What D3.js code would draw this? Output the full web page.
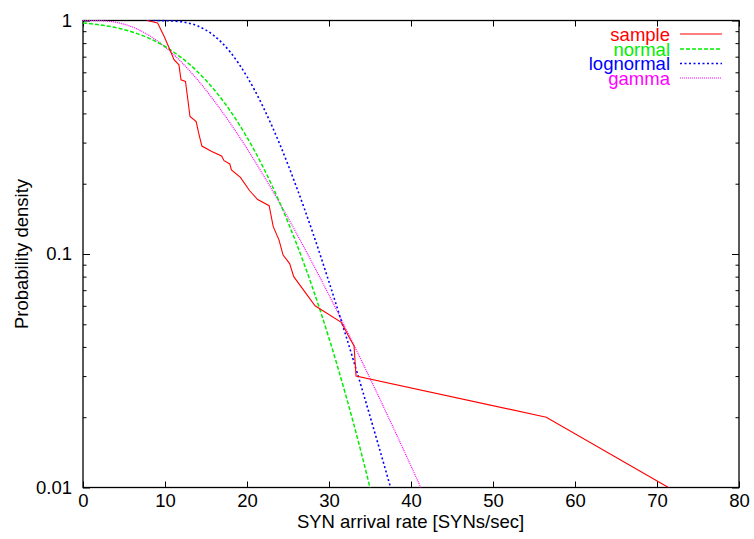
<!DOCTYPE html>
<html>
<head>
<meta charset="utf-8">
<script src="https://cdn.jsdelivr.net/npm/d3@7"></script>
<style>
  html, body { margin: 0; padding: 0; background: #fff; }
  svg { display: block; font-family: "Liberation Sans", Arial, Helvetica, sans-serif; }
</style>
</head>
<body>
<svg id="chart" width="754" height="539"></svg>
<script>
// ---------- data ----------
const xTicks = [0, 10, 20, 30, 40, 50, 60, 70, 80];
const yTicks = [0.01, 0.1, 1];
const yTickLabels = ["0.01", "0.1", "1"];
const yMinorTicks = [0.02, 0.03, 0.04, 0.05, 0.06, 0.07, 0.08, 0.09,
                     0.2, 0.3, 0.4, 0.5, 0.6, 0.7, 0.8, 0.9];
const xLabel = "SYN arrival rate [SYNs/sec]";
const yLabel = "Probability density";
const seriesNames = ["sample", "normal", "lognormal", "gamma"];

const sampleX = [7.8, 9.1, 9.9, 10.6, 11.1, 11.7, 11.95, 12.5, 13.05, 13.8, 14.1, 14.5,
                 15.7, 16.9, 17.2, 17.9, 18.1, 19.2, 20.3, 21.3, 22.7, 23.2, 23.9, 24.4,
                 25.2, 25.7, 28.3, 31.5, 32.6, 33.05, 33.3, 56.5, 71.4];
const sampleY = [1.0, 0.975, 0.854, 0.75, 0.68, 0.646, 0.557, 0.548, 0.388, 0.369, 0.33, 0.29,
                 0.275, 0.263, 0.251, 0.243, 0.229, 0.213, 0.187, 0.171, 0.161, 0.131, 0.115, 0.099,
                 0.091, 0.080, 0.060, 0.051, 0.043, 0.0405, 0.030, 0.020, 0.010];

const normalX = [0, 2, 4, 6, 8, 10, 12, 14, 16, 18, 20, 22, 24, 26, 28, 30, 32, 34, 36];
const normalY = [0.9763, 0.9588, 0.9320, 0.8933, 0.8409, 0.7737, 0.6932, 0.6022, 0.5054, 0.4080,
                 0.3159, 0.2341, 0.1656, 0.1116, 0.0716, 0.0436, 0.0252, 0.0138, 0.00714];

const lognormalX = [8, 10, 12, 14, 16, 18, 20, 22, 24, 26, 28, 30, 32, 34, 36, 38];
const lognormalY = [0.99994, 0.99847, 0.9872, 0.947, 0.860, 0.729, 0.575, 0.424, 0.295, 0.195,
                    0.124, 0.0759, 0.0454, 0.0266, 0.0153, 0.0087];

const gammaX = [0, 2, 4, 6, 8, 10, 12, 14, 16, 18, 20, 22, 24, 26, 28, 30, 32, 34, 36, 38, 40, 42];
const gammaY = [1.0, 0.9984, 0.9826, 0.9387, 0.8658, 0.7707, 0.6640, 0.5552, 0.4527, 0.3612,
                0.2827, 0.2173, 0.1647, 0.1233, 0.09115, 0.0667, 0.04831, 0.03474, 0.02477,
                0.01755, 0.01236, 0.00865];

// ---------- layout & style ----------
const L = 83, R = 739, T = 20.5, B = 487.5;
const FONT = 18.5;
const svg = d3.select("#chart");

const x = d3.scaleLinear().domain([0, 80]).range([L, R]);
const y = d3.scaleLog().domain([0.01, 1]).range([B, T]);

const styles = {
  sample:    { color: "#ff0000", dash: null,  width: 1.1, curve: d3.curveLinear },
  normal:    { color: "#00ee00", dash: "4,2", width: 1.5, curve: d3.curveMonotoneX },
  lognormal: { color: "#0000ff", dash: "2,2.5", width: 1.6, curve: d3.curveMonotoneX },
  gamma:     { color: "#ff00ff", dash: "1,1", width: 1.2, curve: d3.curveMonotoneX }
};

// clip
svg.append("defs").append("clipPath").attr("id", "plotclip")
  .append("rect").attr("x", L).attr("y", T - 1).attr("width", R - L).attr("height", B - T + 1);

// axes (ticks pointing inward, gnuplot style)
function styleAxis(g) {
  g.select(".domain").remove();
  g.selectAll(".tick line").attr("stroke", "#000").attr("stroke-width", 1);
  g.selectAll(".tick text").attr("fill", "#000").style("font-size", FONT + "px")
    .style("font-family", '"Liberation Sans", Arial, sans-serif');
}

svg.append("g").attr("transform", `translate(0,${B})`)
  .call(d3.axisBottom(x).tickValues(xTicks).tickSize(-6).tickPadding(6).tickFormat(d3.format("d")))
  .call(styleAxis);
svg.append("g").attr("transform", `translate(0,${T})`)
  .call(d3.axisTop(x).tickValues(xTicks).tickSize(-6).tickFormat(""))
  .call(styleAxis);

svg.append("g").attr("transform", `translate(${L},0)`)
  .call(d3.axisLeft(y).tickValues(yTicks).tickSize(-7).tickPadding(11)
        .tickFormat(d => yTickLabels[yTicks.indexOf(d)]))
  .call(styleAxis);
svg.append("g").attr("transform", `translate(${L},0)`)
  .call(d3.axisLeft(y).tickValues(yMinorTicks).tickSize(-3.5).tickFormat(""))
  .call(styleAxis);
svg.append("g").attr("transform", `translate(${R},0)`)
  .call(d3.axisRight(y).tickValues(yTicks).tickSize(-7).tickFormat(""))
  .call(styleAxis);
svg.append("g").attr("transform", `translate(${R},0)`)
  .call(d3.axisRight(y).tickValues(yMinorTicks).tickSize(-3.5).tickFormat(""))
  .call(styleAxis);

// border
svg.append("rect").attr("x", L).attr("y", T).attr("width", R - L).attr("height", B - T)
  .attr("fill", "none").attr("stroke", "#000").attr("stroke-width", 1.3);

// series
const seriesData = {
  sample: [sampleX, sampleY],
  normal: [normalX, normalY],
  lognormal: [lognormalX, lognormalY],
  gamma: [gammaX, gammaY]
};
const plot = svg.append("g").attr("clip-path", "url(#plotclip)");
seriesNames.slice().reverse().forEach(name => {
  const [xs, ys] = seriesData[name];
  const pts = xs.map((v, i) => [v, ys[i]]);
  const st = styles[name];
  const line = d3.line().x(d => x(d[0])).y(d => y(d[1])).curve(st.curve);
  plot.append("path").datum(pts).attr("d", line)
    .attr("fill", "none").attr("stroke", st.color).attr("stroke-width", st.width)
    .attr("stroke-dasharray", st.dash);
});

// legend
const legRowY = [34, 49, 63.5, 78];
const leg = svg.append("g");
seriesNames.forEach((name, i) => {
  const st = styles[name];
  leg.append("text").attr("x", 670).attr("y", legRowY[i] + 6.5)
    .attr("text-anchor", "end").attr("fill", st.color)
    .style("font-size", FONT + "px").text(name);
  leg.append("line").attr("x1", 680).attr("x2", 722)
    .attr("y1", legRowY[i]).attr("y2", legRowY[i])
    .attr("stroke", st.color).attr("stroke-width", st.width)
    .attr("stroke-dasharray", st.dash);
});

// axis titles
svg.append("text").attr("x", (L + R) / 2 - 0.5).attr("y", 528)
  .attr("text-anchor", "middle").style("font-size", FONT + "px").attr("fill", "#000")
  .text(xLabel);
svg.append("text").attr("transform", `translate(28,${(T + B) / 2}) rotate(-90)`)
  .attr("text-anchor", "middle").style("font-size", FONT + "px").attr("fill", "#000")
  .text(yLabel);
</script>
</body>
</html>
